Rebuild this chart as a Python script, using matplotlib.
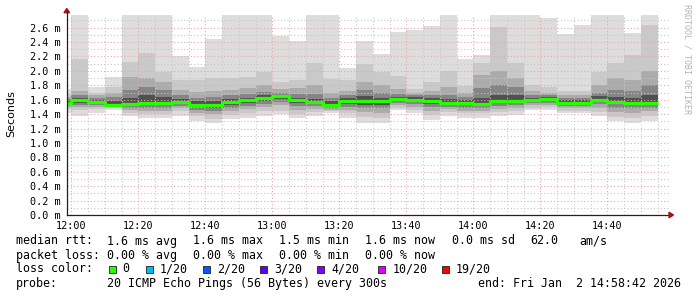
import matplotlib
matplotlib.use("Agg")
import matplotlib.pyplot as plt
from matplotlib.patches import Polygon, Rectangle
from matplotlib.lines import Line2D
import numpy as np

W, H = 697, 297

# 5-minute bins (start time), smokeping style: 20 pings per bin
bin_start = ["11:55", "12:00", "12:05", "12:10", "12:15", "12:20", "12:25", "12:30",
             "12:35", "12:40", "12:45", "12:50", "12:55", "13:00", "13:05", "13:10",
             "13:15", "13:20", "13:25", "13:30", "13:35", "13:40", "13:45", "13:50",
             "13:55", "14:00", "14:05", "14:10", "14:15", "14:20", "14:25", "14:30",
             "14:35", "14:40", "14:45", "14:50"]
median = [1.56, 1.59, 1.57, 1.53, 1.54, 1.56, 1.55, 1.57, 1.53, 1.53, 1.57, 1.59,
          1.63, 1.645, 1.59, 1.57, 1.53, 1.585, 1.585, 1.58, 1.61, 1.60, 1.58, 1.56,
          1.55, 1.535, 1.58, 1.585, 1.59, 1.61, 1.55, 1.55, 1.60, 1.57, 1.56, 1.56]
# smoke layers, outermost (min/max ping) first, in ms
lo1 = [1.42, 1.38, 1.41, 1.46, 1.37, 1.35, 1.35, 1.37, 1.30, 1.28, 1.33, 1.35,
       1.37, 1.40, 1.35, 1.37, 1.41, 1.34, 1.28, 1.275, 1.46, 1.41, 1.32, 1.38,
       1.345, 1.35, 1.38, 1.39, 1.46, 1.46, 1.41, 1.41, 1.37, 1.30, 1.28, 1.31]
hi1 = [1.75, 2.79, 1.77, 1.91, 2.79, 2.79, 2.79, 2.21, 2.05, 2.44, 2.79, 2.79,
       2.79, 2.49, 2.41, 2.79, 2.79, 2.04, 2.41, 2.24, 2.535, 2.57, 2.63, 2.79,
       2.17, 2.22, 2.79, 2.79, 2.79, 2.74, 2.51, 2.64, 2.79, 2.79, 2.52, 2.79]
lo2 = [1.47, 1.46, 1.47, 1.48, 1.42, 1.40, 1.40, 1.44, 1.37, 1.33, 1.39, 1.42,
       1.45, 1.45, 1.40, 1.43, 1.44, 1.41, 1.36, 1.35, 1.49, 1.46, 1.39, 1.43,
       1.41, 1.41, 1.43, 1.44, 1.49, 1.50, 1.45, 1.45, 1.43, 1.36, 1.35, 1.38]
hi2 = [1.68, 2.16, 1.70, 1.78, 2.13, 2.25, 1.99, 1.87, 1.88, 1.90, 1.90, 1.92,
       1.99, 1.85, 1.87, 2.11, 1.89, 1.88, 2.09, 1.98, 1.93, 1.75, 1.84, 2.00,
       1.785, 2.11, 2.61, 2.11, 1.81, 1.775, 1.715, 1.715, 1.99, 2.11, 2.22, 2.64]
lo3 = [1.50, 1.50, 1.50, 1.50, 1.46, 1.45, 1.45, 1.48, 1.42, 1.40, 1.44, 1.47,
       1.50, 1.52, 1.46, 1.47, 1.46, 1.46, 1.43, 1.42, 1.52, 1.50, 1.45, 1.47,
       1.45, 1.45, 1.47, 1.48, 1.52, 1.53, 1.48, 1.48, 1.49, 1.43, 1.42, 1.44]
hi3 = [1.64, 1.72, 1.66, 1.70, 1.91, 1.90, 1.85, 1.73, 1.71, 1.72, 1.74, 1.76,
       1.80, 1.75, 1.76, 1.80, 1.70, 1.72, 1.85, 1.80, 1.75, 1.70, 1.72, 1.78,
       1.70, 1.95, 2.00, 1.90, 1.72, 1.70, 1.66, 1.66, 1.80, 1.90, 1.87, 2.00]
lo4 = [1.52, 1.53, 1.53, 1.51, 1.49, 1.49, 1.49, 1.51, 1.46, 1.45, 1.49, 1.51,
       1.54, 1.57, 1.51, 1.51, 1.48, 1.50, 1.48, 1.48, 1.55, 1.54, 1.50, 1.50,
       1.49, 1.48, 1.51, 1.52, 1.55, 1.56, 1.51, 1.51, 1.54, 1.49, 1.48, 1.49]
hi4 = [1.61, 1.67, 1.63, 1.64, 1.74, 1.78, 1.74, 1.66, 1.63, 1.64, 1.66, 1.68,
       1.71, 1.70, 1.68, 1.68, 1.63, 1.66, 1.73, 1.70, 1.68, 1.67, 1.66, 1.67,
       1.64, 1.76, 1.80, 1.78, 1.67, 1.67, 1.62, 1.62, 1.70, 1.74, 1.72, 1.80]
lo5 = [1.54, 1.56, 1.55, 1.52, 1.52, 1.53, 1.52, 1.54, 1.50, 1.49, 1.53, 1.55,
       1.58, 1.61, 1.55, 1.54, 1.50, 1.54, 1.53, 1.53, 1.58, 1.57, 1.54, 1.53,
       1.52, 1.51, 1.55, 1.56, 1.57, 1.59, 1.53, 1.53, 1.58, 1.54, 1.53, 1.53]
hi5 = [1.58, 1.63, 1.60, 1.58, 1.63, 1.66, 1.64, 1.61, 1.58, 1.58, 1.61, 1.63,
       1.66, 1.67, 1.63, 1.61, 1.58, 1.62, 1.65, 1.63, 1.64, 1.64, 1.62, 1.61,
       1.59, 1.63, 1.67, 1.67, 1.63, 1.64, 1.59, 1.59, 1.65, 1.64, 1.63, 1.66]

layers = [(lo1, hi1), (lo2, hi2), (lo3, hi3), (lo4, hi4), (lo5, hi5)]
layer_cols = ["#dddddd", "#c9c9c9", "#ababab", "#858585", "#505050"]

loss_labels = ["0", "1/20", "2/20", "3/20", "4/20", "10/20", "19/20"]
loss_colors = ["#26ff00", "#00b8ff", "#0059ff", "#5e00ff", "#7e00ff", "#dd00ff", "#ff0000"]

x_ticks = ["12:00", "12:20", "12:40", "13:00", "13:20", "13:40", "14:00", "14:20", "14:40"]


def minutes(s):
    h, m = s.split(":")
    return int(h) * 60 + int(m) - 720


def fx(x):
    return x / W


def fy(y):
    return 1 - y / H


MONO = "DejaVu Sans Mono"

fig = plt.figure(figsize=(W / 100, H / 100), dpi=100)
ax = fig.add_axes([fx(67), fy(215), 603 / W, 200 / H])

starts = np.array([minutes(s) for s in bin_start], dtype=float)
for (lo, hi), c in zip(layers, layer_cols):
    lo = np.array(lo); hi = np.array(hi)
    ax.bar(starts, hi - lo, bottom=lo, width=5, align="edge", color=c, lw=0, zorder=1)

edges = np.append(starts, starts[-1] + 5)
ax.step(edges, np.append(median, median[-1]), where="post", color="#26ff00", lw=2.3,
        zorder=4, solid_capstyle="butt")

ax.set_xlim(-1.3, 178.7)
ax.set_ylim(0, 2.776)

# rrdtool-ish dotted grid, drawn over the smoke
for v in np.arange(0.1, 2.75, 0.1):
    major = abs((v / 0.2) - round(v / 0.2)) < 1e-6
    ax.axhline(v, color="#e8a8a8" if major else "#c8c8c8", lw=0.8,
               ls=(0, (1, 2)), zorder=3)
for t in np.arange(0, 178, 5):
    ax.axvline(t, color="#e8a8a8" if t % 20 == 0 else "#c8c8c8", lw=0.8,
               ls=(0, (1, 2)), zorder=3)

yt = np.arange(0, 2.61, 0.2)
ax.set_yticks(yt)
ax.set_yticklabels([f"{v:.1f} m" for v in yt], family=MONO, fontsize=7.3)
ax.set_xticks([minutes(s) for s in x_ticks])
ax.set_xticklabels(x_ticks, family=MONO, fontsize=7.3)
ax.tick_params(axis="y", length=0, pad=4.6)
ax.tick_params(axis="x", length=0, pad=4.0)
for s in ["top", "right", "left"]:
    ax.spines[s].set_visible(False)
ax.spines["bottom"].set_color("#202020")
ax.spines["bottom"].set_linewidth(0.9)

# left axis with arrow, right arrow on time axis
fig.add_artist(Line2D([fx(67), fx(67)], [fy(215), fy(12)], color="#202020", lw=0.9))
fig.add_artist(Polygon([(fx(64), fy(12.7)), (fx(69.6), fy(12.7)), (fx(66.8), fy(8.5))],
                       closed=True, color="#a01818", transform=fig.transFigure))
fig.add_artist(Polygon([(fx(669), fy(212.2)), (fx(669), fy(217.8)), (fx(673.5), fy(215))],
                       closed=True, color="#a01818", transform=fig.transFigure))

fig.text(fx(11), fy(114), "Seconds", rotation=90, ha="center", va="center", fontsize=8)
fig.text(fx(687), fy(4), "RRDTOOL / TOBI OETIKER", rotation=270, ha="center", va="top",
         family=MONO, fontsize=6, color="#b4b4b4")

# legend block
fs = 8.4
def lg(x, y, s):
    fig.text(fx(x), fy(y), s, family=MONO, fontsize=fs, ha="left", va="center")

lg(16, 241, "median rtt:")
lg(107.3, 241, "1.6 ms avg")
lg(193.3, 241, "1.6 ms max")
lg(279.3, 241, "1.5 ms min")
lg(365, 241, "1.6 ms now")
lg(451.7, 241, "0.0 ms sd")
lg(530, 241, "62.0")
lg(579.3, 241, "am/s")

lg(16, 255.5, "packet loss:")
lg(107.3, 255.5, "0.00 % avg")
lg(193.3, 255.5, "0.00 % max")
lg(279.3, 255.5, "0.00 % min")
lg(365, 255.5, "0.00 % now")

lg(16, 269, "loss color:")
sq_x = [108.7, 145.7, 203, 260, 317, 378.3, 441.7]
for x, lab, c in zip(sq_x, loss_labels, loss_colors):
    fig.add_artist(Rectangle((fx(x), fy(272.5)), 7 / W, 7 / H, facecolor=c,
                             edgecolor="#202020", lw=0.6, transform=fig.transFigure))
    lg(x + 14, 269, lab)

lg(16, 283.5, "probe:")
lg(107.3, 283.5, "20 ICMP Echo Pings (56 Bytes) every 300s")
lg(478.3, 283.5, "end: Fri Jan  2 14:58:42 2026")

fig.savefig("out.png", dpi=100, facecolor="white")
